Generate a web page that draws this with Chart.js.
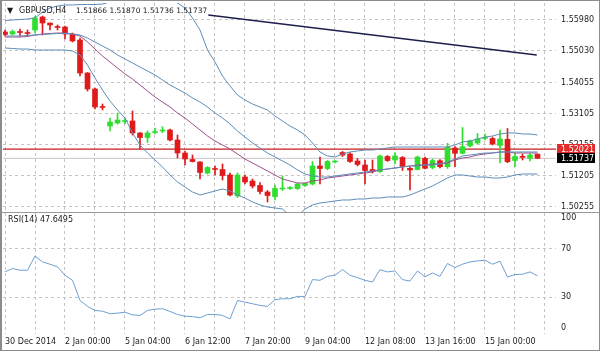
<!DOCTYPE html>
<html>
<head>
<meta charset="utf-8">
<script src="https://cdn.jsdelivr.net/npm/chart.js@4/dist/chart.umd.min.js"></script>
<style>
  html, body { margin: 0; padding: 0; background: #fff; }
</style>
</head>
<body>
<canvas id="chart" width="600" height="351"></canvas>
<script>
const symbolTitle = 'GBPUSD,H4';
const rsiTitle = 'RSI(14)';

const opens = [
  1.55612, 1.55550, 1.55627, 1.55596, 1.55673, 1.56072, 1.55888, 1.55780, 1.55765, 1.55550,
  1.55366, 1.54354, 1.53864, 1.53327, 1.52729, 1.52821, 1.52867, 1.52883, 1.52515, 1.52377,
  1.52530, 1.52576, 1.52607, 1.52300, 1.51901, 1.51702, 1.51625, 1.51288, 1.51426, 1.51395,
  1.51227, 1.50583, 1.51165, 1.51043, 1.50905, 1.50705, 1.50567, 1.50797, 1.50813, 1.50813,
  1.50905, 1.50951, 1.51503, 1.51426, 1.51625, 1.51917, 1.51871, 1.51656, 1.51533, 1.51395,
  1.51334, 1.51794, 1.51687, 1.51763, 1.51432, 1.51395, 1.51739, 1.51457, 1.51665, 1.51481,
  1.52055, 1.51892, 1.52116, 1.52208, 1.52346, 1.52346, 1.52131, 1.52321, 1.51671, 1.51794,
  1.51739, 1.51866
];
const highs = [
  1.55673, 1.55673, 1.55704, 1.55673, 1.56102, 1.56102, 1.55888, 1.55826, 1.55796, 1.55581,
  1.55428, 1.54370, 1.53894, 1.53404, 1.52975, 1.53128, 1.52975, 1.53189, 1.52530, 1.52576,
  1.52668, 1.52708, 1.52637, 1.52453, 1.51963, 1.51840, 1.51641, 1.51487, 1.51503, 1.51564,
  1.51288, 1.51288, 1.51227, 1.51104, 1.50997, 1.50751, 1.50920, 1.51196, 1.50874, 1.50981,
  1.50981, 1.51641, 1.51779, 1.51671, 1.51671, 1.51947, 1.51917, 1.51733, 1.51687, 1.51687,
  1.51840, 1.51825, 1.51917, 1.51794, 1.51472, 1.51809, 1.51779, 1.51717, 1.51702, 1.52199,
  1.52101, 1.52683, 1.52300, 1.52499, 1.52484, 1.52392, 1.52607, 1.52653, 1.51917, 1.51871,
  1.51886, 1.51870
];
const lows = [
  1.55489, 1.55520, 1.55489, 1.55489, 1.55581, 1.55520, 1.55673, 1.55673, 1.55397, 1.55305,
  1.54262, 1.53802, 1.53251, 1.53220, 1.52576, 1.52791, 1.52791, 1.52453, 1.52024, 1.52223,
  1.52484, 1.52524, 1.52269, 1.51748, 1.51533, 1.51625, 1.51104, 1.51257, 1.51227, 1.51073,
  1.50583, 1.50537, 1.50951, 1.50828, 1.50644, 1.50399, 1.50460, 1.50751, 1.50782, 1.50782,
  1.50874, 1.50920, 1.50951, 1.51380, 1.51595, 1.51794, 1.51610, 1.51503, 1.50951, 1.51288,
  1.51303, 1.51641, 1.51564, 1.51365, 1.50767, 1.51380, 1.51411, 1.51411, 1.51441, 1.51432,
  1.51481, 1.51871, 1.52085, 1.52177, 1.52300, 1.52147, 1.51595, 1.51604, 1.51481, 1.51687,
  1.51656, 1.51736
];
const closes = [
  1.55535, 1.55627, 1.55596, 1.55566, 1.56041, 1.55888, 1.55826, 1.55750, 1.55550, 1.55336,
  1.54354, 1.53864, 1.53312, 1.53297, 1.52852, 1.52913, 1.52898, 1.52515, 1.52377, 1.52515,
  1.52561, 1.52607, 1.52300, 1.51901, 1.51717, 1.51641, 1.51303, 1.51457, 1.51395, 1.51211,
  1.50613, 1.51227, 1.51012, 1.50889, 1.50721, 1.50598, 1.50813, 1.50828, 1.50844, 1.50951,
  1.50966, 1.51503, 1.51426, 1.51641, 1.51641, 1.51840, 1.51641, 1.51549, 1.51365, 1.51334,
  1.51809, 1.51671, 1.51809, 1.51487, 1.51380, 1.51779, 1.51432, 1.51671, 1.51481, 1.52076,
  1.51892, 1.52094, 1.52269, 1.52331, 1.52367, 1.52177, 1.52331, 1.51634, 1.51794, 1.51769,
  1.51840, 1.51737
];

const bandUpper = [
  1.55964, 1.55980, 1.55995, 1.56010, 1.56041, 1.56225, 1.56348, 1.56409, 1.56440, 1.56440,
  1.56455, 1.56455, 1.56455, 1.56470, 1.56532, 1.56593, 1.56654, 1.56685, 1.56716, 1.56716,
  1.56685, 1.56654, 1.56593, 1.56501, 1.56348, 1.56041, 1.55673, 1.55060, 1.54692, 1.54262,
  1.53957, 1.53680, 1.53527, 1.53404, 1.53312, 1.53220, 1.53036, 1.52883, 1.52729, 1.52607,
  1.52453, 1.52208, 1.51932, 1.51809, 1.51779, 1.51871, 1.51932, 1.51963, 1.51993, 1.51993,
  1.52024, 1.52055, 1.52085, 1.52085, 1.52085, 1.52085, 1.52085, 1.52085, 1.52085, 1.52085,
  1.52147, 1.52239, 1.52269, 1.52331, 1.52392, 1.52423, 1.52484, 1.52515, 1.52515, 1.52484,
  1.52484, 1.52453
];
const bandMiddle = [
  1.55489, 1.55489, 1.55489, 1.55504, 1.55520, 1.55535, 1.55550, 1.55566, 1.55566, 1.55550,
  1.55520, 1.55428, 1.55305, 1.55182, 1.55060, 1.54906, 1.54784, 1.54662, 1.54538, 1.54416,
  1.54294, 1.54140, 1.53987, 1.53864, 1.53741, 1.53588, 1.53465, 1.53312, 1.53128, 1.52975,
  1.52791, 1.52576, 1.52392, 1.52208, 1.52055, 1.51901, 1.51779, 1.51656, 1.51533, 1.51380,
  1.51257, 1.51196, 1.51165, 1.51165, 1.51196, 1.51227, 1.51257, 1.51288, 1.51319, 1.51349,
  1.51380, 1.51411, 1.51441, 1.51472, 1.51503, 1.51503, 1.51533, 1.51533, 1.51564, 1.51625,
  1.51717, 1.51809, 1.51840, 1.51871, 1.51901, 1.51901, 1.51932, 1.51932, 1.51932, 1.51932,
  1.51932, 1.51932
];
const bandLower = [
  1.55121, 1.55106, 1.55090, 1.55090, 1.55060, 1.55060, 1.55060, 1.55060, 1.55060, 1.55029,
  1.54906, 1.54600, 1.54201, 1.53834, 1.53496, 1.53220, 1.52975, 1.52515, 1.52147, 1.51901,
  1.51687, 1.51472, 1.51227, 1.51012, 1.50859, 1.50705, 1.50613, 1.50675, 1.50736, 1.50797,
  1.50736, 1.50613, 1.50521, 1.50399, 1.50307, 1.50245, 1.50215, 1.50184, 1.49970, 1.49970,
  1.50184, 1.50307, 1.50368, 1.50399, 1.50429, 1.50460, 1.50460, 1.50491, 1.50491, 1.50521,
  1.50521, 1.50552, 1.50552, 1.50552, 1.50613, 1.50705, 1.50797, 1.50889, 1.51012, 1.51135,
  1.51227, 1.51227, 1.51196, 1.51165, 1.51165, 1.51135, 1.51135, 1.51165, 1.51227, 1.51257,
  1.51257, 1.51257
];
const maLine = [
  1.55458, 1.55458, 1.55458, 1.55474, 1.55520, 1.55550, 1.55566, 1.55581, 1.55581, 1.55550,
  1.55489, 1.55305, 1.55090, 1.54876, 1.54692, 1.54508, 1.54324, 1.54170, 1.53987, 1.53802,
  1.53618, 1.53465, 1.53312, 1.53128, 1.52975, 1.52791, 1.52607, 1.52423, 1.52269, 1.52147,
  1.52024, 1.51871, 1.51717, 1.51595, 1.51472, 1.51349, 1.51227, 1.51104, 1.51043, 1.50981,
  1.50981, 1.51043, 1.51073, 1.51135, 1.51165, 1.51196, 1.51227, 1.51257, 1.51288, 1.51319,
  1.51380, 1.51411, 1.51441, 1.51472, 1.51503, 1.51533, 1.51533, 1.51564, 1.51564, 1.51595,
  1.51687, 1.51748, 1.51779, 1.51840, 1.51871, 1.51901, 1.51932, 1.51932, 1.51901, 1.51901,
  1.51901, 1.51901
];
const rsiValues = [
  50.9, 53.7, 52.3, 52.3, 63.8, 59.1, 57.2, 55.0, 48.1, 44.0,
  27.5, 22.6, 19.3, 18.7, 16.6, 17.1, 17.9, 15.7, 15.2, 19.3,
  20.4, 20.7, 18.5, 16.0, 14.6, 14.3, 13.3, 16.0, 16.0, 15.2,
  12.4, 27.5, 26.1, 24.8, 23.4, 22.6, 28.1, 28.9, 28.9, 30.8,
  30.8, 44.6, 44.0, 47.3, 48.1, 52.8, 48.1, 46.2, 44.0, 42.6,
  52.8, 50.9, 51.7, 44.6, 43.4, 51.7, 46.8, 50.0, 47.3, 57.8,
  54.5, 57.2, 59.1, 59.9, 60.5, 57.2, 59.7, 46.7, 48.7, 49.0,
  50.9, 47.6495
];

const trendBars = [27.1, 70.9];
const trendPrices = [1.56133, 1.54906];
const levelPrice = 1.52021;
const bidPrice = 1.51737;

const priceTicks = [1.50255, 1.51205, 1.52155, 1.53105, 1.54055, 1.55030, 1.55980];
const rsiTicks = [0, 30, 70, 100];
const gridBars = [0, 4, 8, 12, 16, 20, 24, 28, 32, 36, 40, 44, 48, 52, 56, 60, 64, 68, 72];
const labelBars = [0, 8, 16, 24, 32, 40, 48, 56, 64];
const labelTexts = ['30 Dec 2014', '2 Jan 00:00', '5 Jan 04:00', '6 Jan 12:00', '7 Jan 20:00',
  '9 Jan 04:00', '12 Jan 08:00', '13 Jan 16:00', '15 Jan 00:00'];

const UP = '#2fde2f';
const DOWN = '#e01a1a';
const BAND = '#5d8cb8';
const MA = '#a04e88';
const GRID = '#c4c4c4';
const TEXT = '#1c1c1c';
const FAMILY = 'DejaVu Sans';

const bars = closes.map((_, i) => i);
const candleColors = bars.map(i => closes[i] >= opens[i] ? UP : DOWN);
const series = values => values.map((v, i) => ({ x: i, y: v }));
const spanLine = v => [{ x: -1, y: v }, { x: 80, y: v }];

const noPadding = s => {
    s.paddingLeft = 0;
    s.paddingRight = 0;
    s.paddingTop = 0;
    s.paddingBottom = 0;
};

// keep each dataset inside its own pane (main chart or RSI)
const paneClip = {
    id: 'paneClip',
    beforeDatasetDraw(chart, args) {
        const yScale = chart.scales[args.meta.yAxisID];
        const area = chart.chartArea;
        chart.ctx.save();
        chart.ctx.beginPath();
        chart.ctx.rect(area.left, yScale.top, area.right - area.left, yScale.bottom - yScale.top);
        chart.ctx.clip();
    },
    afterDatasetDraw(chart) {
        chart.ctx.restore();
    }
};

const overlay = {
    id: 'overlay',
    afterDraw(chart) {
        const { ctx, chartArea, scales } = chart;
        const last = closes.length - 1;
        ctx.save();

        ctx.strokeStyle = '#9a9a9a';
        ctx.lineWidth = 1;
        ctx.beginPath();
        ctx.moveTo(0, scales.rsi.top + 0.5);
        ctx.lineTo(600, scales.rsi.top + 0.5);
        ctx.stroke();

        ctx.font = `8px "${FAMILY}"`;
        ctx.textBaseline = 'middle';
        [[levelPrice, '#e52a2a'], [bidPrice, '#000000']].forEach(([v, bg]) => {
            const y = Math.round(scales.y.getPixelForValue(v));
            ctx.fillStyle = bg;
            ctx.fillRect(chartArea.right + 1, y - 5, 38, 10);
            ctx.fillStyle = '#ffffff';
            ctx.fillText(v.toFixed(5), chartArea.right + 5, y + 0.5);
        });

        ctx.fillStyle = TEXT;
        ctx.fillText('\u25BC', 7, 11);
        ctx.fillText(symbolTitle, 19, 11);
        ctx.fillText(`${rsiTitle} ${rsiValues[last].toFixed(4)}`, 8, scales.rsi.top + 8);
        ctx.font = `7.5px "${FAMILY}"`;
        ctx.fillText([opens[last], highs[last], lows[last], closes[last]].map(v => v.toFixed(5)).join(' '), 76, 11);

        ctx.strokeStyle = '#8c8c8c';
        ctx.strokeRect(0.5, 0.5, 599, 350);
        ctx.beginPath();
        ctx.moveTo(1.5, 0);
        ctx.lineTo(1.5, 351);
        ctx.stroke();
        ctx.restore();
    }
};

const font = { family: FAMILY, size: 8 };

new Chart(document.getElementById('chart'), {
    type: 'bar',
    data: {
        datasets: [
            {
                type: 'line', label: 'Trend', yAxisID: 'y', order: 0,
                data: trendBars.map((b, k) => ({ x: b, y: trendPrices[k] })),
                borderColor: '#1e1e4e', borderWidth: 1.6, pointRadius: 0
            },
            { type: 'line', label: 'BB upper', yAxisID: 'y', order: 1, data: series(bandUpper), borderColor: BAND, borderWidth: 1, pointRadius: 0 },
            { type: 'line', label: 'BB middle', yAxisID: 'y', order: 1, data: series(bandMiddle), borderColor: BAND, borderWidth: 1, pointRadius: 0 },
            { type: 'line', label: 'BB lower', yAxisID: 'y', order: 1, data: series(bandLower), borderColor: BAND, borderWidth: 1, pointRadius: 0 },
            { type: 'line', label: 'MA', yAxisID: 'y', order: 1, data: series(maLine), borderColor: MA, borderWidth: 1, pointRadius: 0 },
            {
                label: 'Body', yAxisID: 'y', order: 2, grouped: false,
                data: bars.map(i => ({ x: i, y: [Math.min(opens[i], closes[i]), Math.max(opens[i], closes[i])] })),
                backgroundColor: candleColors, barThickness: 5, minBarLength: 1, borderWidth: 0
            },
            {
                label: 'Wick', yAxisID: 'y', order: 3, grouped: false,
                data: bars.map(i => ({ x: i, y: [lows[i], highs[i]] })),
                backgroundColor: candleColors, barThickness: 1, borderWidth: 0
            },
            { type: 'line', label: 'Level', yAxisID: 'y', order: 4, data: spanLine(levelPrice), borderColor: '#c41c1c', borderWidth: 1.3, pointRadius: 0 },
            { type: 'line', label: 'Bid', yAxisID: 'y', order: 4, data: spanLine(bidPrice), borderColor: '#c8c8c8', borderWidth: 1, pointRadius: 0 },
            { type: 'line', label: 'RSI', yAxisID: 'rsi', order: 0, data: series(rsiValues), borderColor: '#6e9fd2', borderWidth: 1, pointRadius: 0 }
        ]
    },
    options: {
        responsive: false,
        animation: false,
        events: [],
        layout: { autoPadding: false, padding: { top: 3, left: 3, right: 0, bottom: 0 } },
        plugins: { legend: { display: false }, tooltip: { enabled: false } },
        scales: {
            x: {
                type: 'linear',
                offset: false,
                min: -0.2667,
                max: 73.467,
                afterBuildTicks: s => { s.ticks = gridBars.map(v => ({ value: v })); },
                afterFit: s => { s.height = 17; noPadding(s); },
                ticks: {
                    autoSkip: false, maxRotation: 0, align: 'start', padding: 3,
                    font, color: TEXT,
                    callback: v => {
                        const k = labelBars.indexOf(v);
                        return k >= 0 ? labelTexts[k] : '';
                    }
                },
                grid: { offset: false, color: GRID, drawTicks: false },
                border: { display: false, dash: [3, 3] }
            },
            y: {
                type: 'linear',
                position: 'right',
                stack: 'panes',
                stackWeight: 209,
                min: 1.50092,
                max: 1.56501,
                afterBuildTicks: s => { s.ticks = priceTicks.map(v => ({ value: v })); },
                afterFit: s => { s.width = 44; noPadding(s); },
                ticks: { autoSkip: false, padding: 5, font, color: TEXT, callback: v => v.toFixed(5) },
                grid: { color: GRID, drawTicks: false },
                border: { display: false, dash: [3, 3] }
            },
            rsi: {
                type: 'linear',
                position: 'right',
                stack: 'panes',
                stackWeight: 122,
                min: 0,
                max: 100,
                afterBuildTicks: s => { s.ticks = rsiTicks.map(v => ({ value: v })); },
                afterFit: s => { s.width = 44; noPadding(s); },
                ticks: {
                    autoSkip: false, padding: 5, color: TEXT,
                    font: { family: FAMILY, size: 8, lineHeight: '12px' },
                    callback: v => v === 100 ? ['', '100'] : v === 0 ? ['0', ''] : String(v)
                },
                grid: {
                    drawTicks: false,
                    color: ctx => ctx.tick && (ctx.tick.value === 30 || ctx.tick.value === 70) ? GRID : 'rgba(0,0,0,0)'
                },
                border: { display: false, dash: [3, 3] }
            }
        }
    },
    plugins: [paneClip, overlay]
});
</script>
</body>
</html>
